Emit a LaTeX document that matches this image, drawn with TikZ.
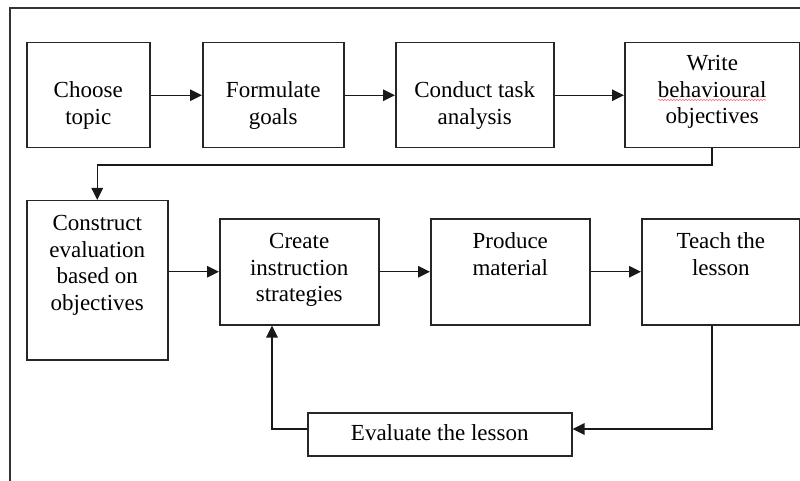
\documentclass[tikz,border=0pt]{standalone}
\usepackage{fontspec}
\setmainfont{Liberation Serif}
\usetikzlibrary{arrows.meta,decorations.pathmorphing}
% box content: width, height, first-baseline offset, lines
\newcommand{\boxbody}[4]{\parbox[c][#2][t]{#1}{\centering\fontsize{23}{26.5}\selectfont\rule{0pt}{#3}#4}}
\begin{document}
\begin{tikzpicture}[x=1pt,y=-1pt,
  stepbox/.style={draw=black!85, line width=1.5pt, inner sep=0pt, anchor=north west},
  flow/.style={draw=black!90, line width=1.4pt, -{Triangle[length=12pt,width=11.5pt]}},
  frameline/.style={draw=black!80, line width=1.4pt}]
\useasboundingbox (0,0) rectangle (800,481);
% outer frame
\draw[frameline] (10,481) -- (10,8) -- (800,8);
% first row
\node[stepbox] (choose) at (26,42) {\boxbody{123pt}{105pt}{55pt}{Choose\\topic}};
\node[stepbox] (goals) at (202,42) {\boxbody{141pt}{105pt}{55pt}{Formulate\\goals}};
\node[stepbox] (task) at (395,42) {\boxbody{158pt}{105pt}{55pt}{Conduct task\\analysis}};
\node[stepbox] (write) at (624,42) {\boxbody{175pt}{105pt}{28pt}{Write\\behavioural\\objectives}};
% spell-check underline
\draw[red!55, line width=0.6pt, decorate, decoration={snake, amplitude=0.8pt, segment length=3pt}] (658,100) -- (766,100);
% second row
\node[stepbox] (evalcon) at (26,200) {\boxbody{141pt}{159pt}{30pt}{Construct\\evaluation\\based on\\objectives}};
\node[stepbox] (strat) at (219,218) {\boxbody{159pt}{106pt}{30pt}{Create\\instruction\\strategies}};
\node[stepbox] (material) at (430,218) {\boxbody{159pt}{106pt}{30pt}{Produce\\material}};
\node[stepbox] (teach) at (641,218) {\boxbody{158pt}{106pt}{30pt}{Teach the\\lesson}};
\node[stepbox] (evaluate) at (307,412) {\boxbody{264pt}{43pt}{28pt}{Evaluate the lesson}};
% connectors
\draw[flow] (choose.east) -- (goals.west);
\draw[flow] (goals.east) -- (task.west);
\draw[flow] (task.east) -- (write.west);
\coordinate (wturn) at (712,165);
\draw[flow] (write.south -| 712,0) -- (wturn) -| (evalcon.north);
\draw[flow] (evalcon.east |- strat.west) -- (strat.west);
\draw[flow] (strat.east) -- (material.west);
\draw[flow] (material.east) -- (teach.west);
\draw[flow] (teach.south -| 712,0) |- (evaluate.east |- 0,429);
\draw[flow] (evaluate.west |- 0,429) -| (strat.south -| 272,0);
\end{tikzpicture}
\end{document}
